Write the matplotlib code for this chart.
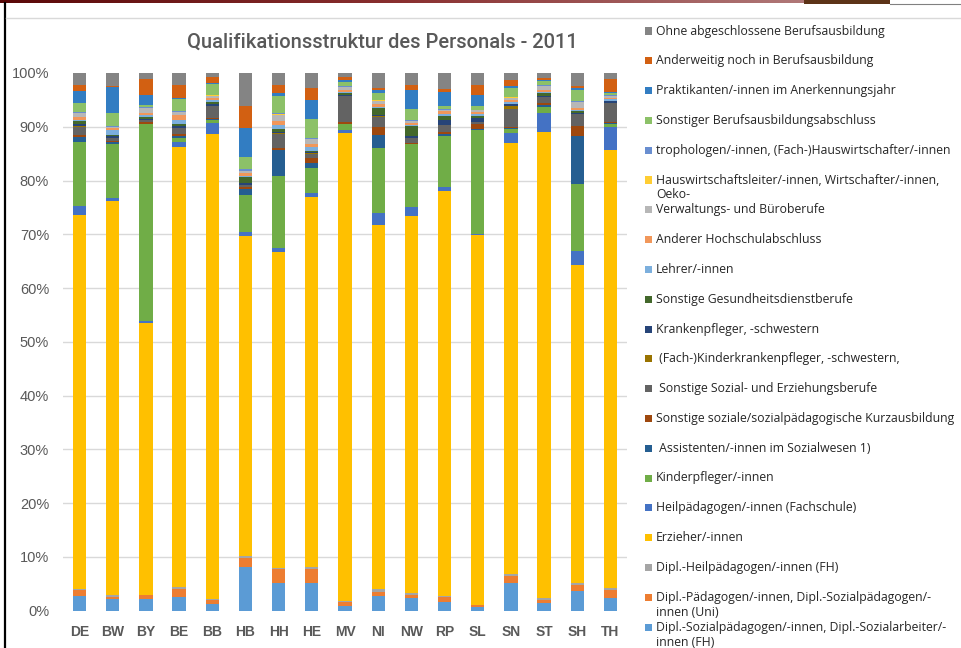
import matplotlib
matplotlib.use("Agg")
import matplotlib.pyplot as plt
import numpy as np
from matplotlib import font_manager
from matplotlib.patches import Rectangle
from matplotlib.lines import Line2D

# Data (percent of staff per Land, bottom to top)
states = ["DE", "BW", "BY", "BE", "BB", "HB", "HH", "HE", "MV", "NI",
          "NW", "RP", "SL", "SN", "ST", "SH", "TH"]

dipl_sozpaed_fh = [2.7, 2.1, 2.2, 2.55, 1.25, 8.1, 5.15, 5.15, 0.9, 2.7, 2.4, 1.7, 0.6, 5.15, 1.45, 3.65, 2.4]
dipl_paed_uni = [1.1, 0.45, 0.7, 1.45, 0.8, 1.8, 2.6, 2.6, 0.8, 0.8, 0.5, 0.85, 0.45, 1.35, 0.6, 1.15, 1.5]
dipl_heilpaed_fh = [0.3, 0.35, 0.1, 0.4, 0.15, 0.3, 0.25, 0.35, 0.15, 0.55, 0.4, 0.1, 0.05, 0.4, 0.3, 0.35, 0.25]
erzieher = [69.8, 73.7, 50.7, 82.2, 86.6, 59.7, 58.7, 68.9, 87.35, 67.85, 70.2, 75.55, 68.8, 80.1, 86.85, 59.35, 81.95]
heilpaed_fs = [1.5, 0.6, 0.3, 0.9, 2.1, 0.7, 0.9, 0.7, 0.5, 2.4, 1.6, 0.8, 0.2, 2.0, 3.5, 2.6, 4.2]
kinderpfleger = [12.1, 10.2, 36.9, 0.8, 0.5, 7.0, 13.4, 4.7, 1.2, 12.1, 11.7, 9.5, 19.5, 0.6, 1.3, 12.4, 0.6]
assistenten = [0.9, 0.3, 0.05, 0.2, 0.1, 1.1, 4.8, 0.9, 0.05, 2.4, 0.05, 0.3, 0.05, 0.2, 0.3, 9.0, 0.3]
kurzausbildung = [0.4, 0.3, 0.3, 0.5, 0.25, 0.4, 0.4, 0.9, 0.3, 1.4, 0.2, 0.4, 1.0, 0.3, 0.3, 1.8, 0.1]
sonst_sozial = [1.4, 0.4, 0.4, 1.0, 2.2, 0.3, 2.6, 0.8, 4.8, 2.0, 0.9, 1.3, 0.3, 3.3, 1.2, 2.2, 3.5]
kinderkrankenpfl = [0.2, 0.1, 0.05, 0.1, 0.1, 0.1, 0.05, 0.1, 0.05, 0.05, 0.05, 0.05, 0.05, 0.6, 0.05, 0.05, 0.05]
krankenpfl = [0.3, 0.3, 0.2, 0.4, 0.3, 0.3, 0.3, 0.2, 0.1, 0.25, 0.35, 0.8, 0.85, 0.3, 0.1, 0.2, 0.3]
sonst_gesundheit = [0.6, 0.3, 0.2, 0.3, 0.4, 1.1, 0.5, 0.2, 0.4, 1.3, 1.8, 0.9, 0.25, 0.1, 0.6, 0.3, 0.1]
lehrer = [0.3, 0.9, 0.4, 0.8, 0.4, 0.3, 0.8, 0.8, 0.2, 0.2, 0.3, 0.3, 0.4, 0.3, 0.1, 0.3, 0.3]
hochschule = [0.5, 0.3, 0.4, 1.0, 0.4, 0.4, 0.8, 0.6, 0.4, 0.5, 0.4, 0.5, 0.4, 0.3, 0.4, 0.3, 0.3]
verwaltung = [0.7, 0.2, 1.0, 0.5, 0.4, 0.5, 1.1, 0.8, 0.6, 0.7, 0.3, 0.2, 0.3, 0.5, 0.8, 1.1, 0.3]
hauswirt_leiter = [0.1, 0.05, 0.05, 0.05, 0.05, 0.05, 0.05, 0.05, 0.05, 0.05, 0.05, 0.05, 0.05, 0.05, 0.05, 0.05, 0.05]
trophologen = [0.1, 0.1, 0.05, 0.1, 0.05, 0.2, 0.2, 0.2, 0.05, 0.1, 0.1, 0.1, 0.1, 0.05, 0.05, 0.2, 0.05]
sonst_berufsausb = [1.7, 2.6, 0.4, 2.3, 2.1, 2.4, 3.3, 3.5, 0.9, 1.3, 2.1, 0.7, 0.7, 1.8, 0.8, 2.1, 0.5]
praktikanten = [2.2, 4.7, 1.9, 0.2, 0.2, 5.4, 0.5, 3.6, 0.3, 0.5, 3.5, 2.6, 2.0, 0.3, 0.2, 0.3, 0.2]
anderweitig = [1.2, 0.3, 2.9, 2.4, 1.0, 4.1, 1.5, 2.3, 0.5, 0.4, 0.9, 0.5, 1.9, 1.1, 0.4, 0.4, 2.4]
ohne = [2.2, 2.4, 1.2, 2.2, 0.8, 6.1, 2.2, 2.7, 0.8, 2.8, 2.3, 3.0, 2.2, 1.3, 0.9, 2.4, 1.1]

series = [dipl_sozpaed_fh, dipl_paed_uni, dipl_heilpaed_fh, erzieher, heilpaed_fs,
          kinderpfleger, assistenten, kurzausbildung, sonst_sozial, kinderkrankenpfl,
          krankenpfl, sonst_gesundheit, lehrer, hochschule, verwaltung,
          hauswirt_leiter, trophologen, sonst_berufsausb, praktikanten,
          anderweitig, ohne]

labels = [
    "Dipl.-Sozialpädagogen/-innen, Dipl.-Sozialarbeiter/-\ninnen (FH)",
    "Dipl.-Pädagogen/-innen, Dipl.-Sozialpädagogen/-\ninnen (Uni)",
    "Dipl.-Heilpädagogen/-innen (FH)",
    "Erzieher/-innen",
    "Heilpädagogen/-innen (Fachschule)",
    "Kinderpfleger/-innen",
    " Assistenten/-innen im Sozialwesen 1)",
    "Sonstige soziale/sozialpädagogische Kurzausbildung",
    " Sonstige Sozial- und Erziehungsberufe",
    " (Fach-)Kinderkrankenpfleger, -schwestern,",
    "Krankenpfleger, -schwestern",
    "Sonstige Gesundheitsdienstberufe",
    "Lehrer/-innen",
    "Anderer Hochschulabschluss",
    "Verwaltungs- und Büroberufe",
    "Hauswirtschaftsleiter/-innen, Wirtschafter/-innen,\nOeko-",
    "trophologen/-innen, (Fach-)Hauswirtschafter/-innen",
    "Sonstiger Berufsausbildungsabschluss",
    "Praktikanten/-innen im Anerkennungsjahr",
    "Anderweitig noch in Berufsausbildung",
    "Ohne abgeschlossene Berufsausbildung",
]

colors = ["#5B9BD5", "#ED7D31", "#A5A5A5", "#FFC000", "#4472C4", "#70AD47",
          "#255E91", "#9E480E", "#636363", "#997300", "#264478", "#43682B",
          "#7CAFDD", "#F1975A", "#B7B7B7", "#FFCD33", "#698ED0", "#8CC168",
          "#327DC2", "#D26012", "#848484"]

title = "Qualifikationsstruktur des Personals - 2011"

available = {f.name for f in font_manager.fontManager.ttflist}
base_font = "Liberation Sans" if "Liberation Sans" in available else "DejaVu Sans"
title_font = "Roboto" if "Roboto" in available else base_font
legend_font = "Open Sans" if "Open Sans" in available else base_font
plt.rcParams["font.family"] = [base_font, "DejaVu Sans"]

W, H = 962, 648
fig = plt.figure(figsize=(W / 100, H / 100), dpi=100)
fig.patch.set_facecolor("white")

ax = fig.add_axes([63 / W, 1 - 610.7 / H, 564 / W, 537.7 / H])

data = np.array(series, dtype=float)
shares = data / data.sum(axis=0)
x = np.arange(len(states))
bottom = np.zeros(len(states))
for vals, col in zip(shares, colors):
    ax.bar(x, vals, 0.4, bottom=bottom, color=col, linewidth=0, zorder=2)
    bottom += vals

for g in np.arange(0.1, 0.95, 0.1):
    ax.axhline(g, color="#D9D9D9", lw=1, zorder=1)

ax.set_xlim(-0.5, len(states) - 0.5)
ax.set_ylim(0, 1)
ax.set_xticks(x)
ax.set_xticklabels(states, fontsize=10, fontweight="bold", color="#595959")
ax.set_yticks(np.arange(0, 1.01, 0.1))
ax.set_yticklabels([f"{int(round(v * 100))}%" for v in np.arange(0, 1.01, 0.1)],
                   fontsize=10.5, color="#595959")
ax.tick_params(axis="both", length=0)
ax.tick_params(axis="x", pad=10)
ax.tick_params(axis="y", pad=10)
for s in ax.spines.values():
    s.set_visible(False)

fig.text(382 / W, 1 - 42 / H, title, family=[title_font, "DejaVu Sans"],
         fontsize=14.5, fontweight="medium", color="#595959", ha="center", va="center")

# legend, top to bottom in reverse stacking order
step = 29.8
for i, (lab, col) in enumerate(zip(labels[::-1], colors[::-1])):
    yc = 31 + i * step
    fig.patches.append(Rectangle((645 / W, 1 - (yc + 3.5) / H), 7 / W, 7 / H,
                                 transform=fig.transFigure, color=col,
                                 linewidth=0, figure=fig))
    for j, line in enumerate(lab.split("\n")):
        fig.text(656 / W, 1 - (yc + j * 15) / H, line, family=[legend_font, "DejaVu Sans"],
                 fontsize=8.8, color="#262626", ha="left", va="center")

# screenshot frame
grad = np.linspace(0, 1, 256).reshape(1, -1)
strip = fig.add_axes([0, 1 - 3.5 / H, 804 / W, 3.5 / H])
strip.imshow(grad, aspect="auto", cmap=matplotlib.colors.LinearSegmentedColormap.from_list(
    "frame", ["#5A0808", "#8A3030", "#B07878"]))
strip.axis("off")
fig.patches.append(Rectangle((804 / W, 1 - 3.5 / H), 86 / W, 3.5 / H,
                             transform=fig.transFigure, color="#5C3317",
                             linewidth=0, figure=fig))
fig.lines.append(Line2D([890 / W, 1], [1 - 3.5 / H, 1 - 3.5 / H], transform=fig.transFigure,
                        color="#808080", lw=0.8, figure=fig))
fig.lines.append(Line2D([5 / W, 5 / W], [0, 1 - 3 / H], transform=fig.transFigure,
                        color="black", lw=1.6, figure=fig))
fig.lines.append(Line2D([6 / W, 1], [1 - 18 / H, 1 - 18 / H], transform=fig.transFigure,
                        color="#D9D9D9", lw=1, figure=fig))

fig.savefig("out.png", dpi=100)
